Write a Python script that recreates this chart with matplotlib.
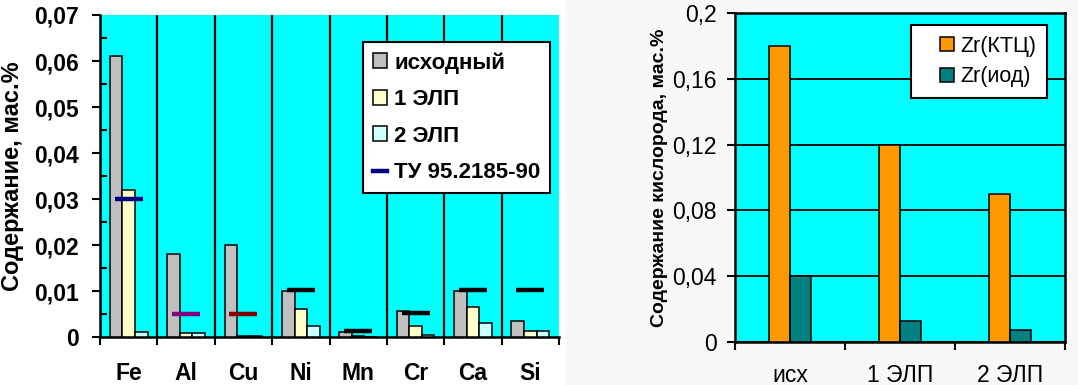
import matplotlib
matplotlib.use("Agg")
import matplotlib.pyplot as plt
import numpy as np
from matplotlib.patches import Rectangle
from matplotlib.lines import Line2D
from matplotlib.ticker import FixedLocator, FuncFormatter

plt.rcParams["font.family"] = ["Liberation Sans", "DejaVu Sans"]

# left panel: impurity content
ELEMENTS = ["Fe", "Al", "Cu", "Ni", "Mn", "Cr", "Ca", "Si"]
INITIAL = [0.061, 0.018, 0.020, 0.010, 0.0010, 0.0057, 0.0100, 0.0035]
ELP1 = [0.032, 0.0008, 0.0003, 0.0061, 0.0002, 0.0023, 0.0066, 0.0014]
ELP2 = [0.0011, 0.0008, 0.0003, 0.0024, 0.0001, 0.0004, 0.0031, 0.0014]
SPEC = [0.030, 0.005, 0.005, 0.0103, 0.0012, 0.0052, 0.0103, 0.0103]
SPEC_COLORS = ["#000080", "#800080", "#800000", "black", "black", "black", "black", "black"]

# right panel: oxygen content
STAGES = ["исх", "1 ЭЛП", "2 ЭЛП"]
ZR_KTC = [0.18, 0.12, 0.09]
ZR_IOD = [0.04, 0.0125, 0.0071]

CYAN = "#00FFFF"
W, H = 1078, 385


def comma_fmt(v, _pos):
    if abs(v) < 1e-12:
        return "0"
    return f"{v:g}".replace(".", ",")


fig = plt.figure(figsize=(W / 100, H / 100), dpi=100)
fig.patch.set_facecolor("white")
fig.patches.append(Rectangle((566 / W, 0), 1 - 566 / W, 1, transform=fig.transFigure,
                             facecolor="#F8F8F8", edgecolor="none", zorder=-10))

# ---------------- left chart ----------------
ax = fig.add_axes([100 / W, 1 - 337 / H, (559 - 100) / W, (337 - 15) / H])
ax.set_facecolor(CYAN)
x = np.arange(len(ELEMENTS))
bw = 0.22
for off, vals, col, lab in [(-bw, INITIAL, "#C0C0C0", "исходный"),
                            (0, ELP1, "#FFFFCC", "1 ЭЛП"),
                            (bw, ELP2, "#CCFFFF", "2 ЭЛП")]:
    ax.bar(x + off, vals, width=bw, color=col, edgecolor="black", linewidth=1.1,
           label=lab, zorder=3)
for xi, s, c in zip(x, SPEC, SPEC_COLORS):
    ax.plot([xi], [s], marker="_", markersize=20, markeredgewidth=3.2,
            color=c, linestyle="none", zorder=4)
for b in x[:-1] + 0.5:
    ax.axvline(b, color="black", lw=1.6, zorder=2)

ax.set_xlim(-0.5, len(ELEMENTS) - 0.5)
ax.set_ylim(0, 0.07)
ax.xaxis.set_major_locator(FixedLocator(np.arange(len(ELEMENTS) + 1) - 0.5))
ax.xaxis.set_major_formatter(FuncFormatter(lambda v, p: ""))
ax.xaxis.set_minor_locator(FixedLocator(x))
ax.xaxis.set_minor_formatter(FuncFormatter(lambda v, p: ELEMENTS[int(round(v))]))
ax.tick_params(axis="x", which="major", direction="out", length=6, width=1.5)
ax.tick_params(axis="x", which="minor", length=0, pad=18, labelsize=16.5)
ax.yaxis.set_major_locator(FixedLocator(np.arange(0, 0.0701, 0.01)))
ax.yaxis.set_minor_locator(FixedLocator(np.arange(0.005, 0.07, 0.01)))
ax.yaxis.set_major_formatter(FuncFormatter(comma_fmt))
ax.tick_params(axis="y", which="major", direction="out", length=6, width=1.5,
               pad=9, labelsize=16.5)
ax.tick_params(axis="y", which="minor", direction="in", length=5, width=1.5)
for lab in ax.get_xticklabels(minor=True) + ax.get_yticklabels():
    lab.set_fontweight("bold")
ax.spines[["top", "right"]].set_visible(False)
for sp in ["left", "bottom"]:
    ax.spines[sp].set_linewidth(1.8)
ax.set_ylabel("Содержание, мас.%", fontsize=17, fontweight="bold")
ax.yaxis.set_label_coords(-(100 - 24) / 459, 0.5)

handles, labels = ax.get_legend_handles_labels()
handles.append(Line2D([], [], color="#000080", lw=3.2))
labels.append("ТУ 95.2185-90")
leg = ax.legend(handles, labels, loc="upper left", bbox_to_anchor=(363 / W, 1 - 42 / H),
                bbox_transform=fig.transFigure, fancybox=False, framealpha=1,
                edgecolor="black", handlelength=0.65, handleheight=0.65, handletextpad=0.3,
                labelspacing=0.7, borderpad=0.45, borderaxespad=0,
                prop={"size": 16, "weight": "bold"})
leg.get_frame().set_linewidth(1.5)
leg.set_zorder(10)

# ---------------- right chart ----------------
ax2 = fig.add_axes([735 / W, 1 - 341.7 / H, (1065 - 735) / W, (341.7 - 13.3) / H])
ax2.set_facecolor(CYAN)
x2 = np.arange(len(STAGES))
bw2 = 0.19
ax2.bar(x2 - bw2 / 2, ZR_KTC, width=bw2, color="#FF9900", edgecolor="black",
        linewidth=1.1, label="Zr(КТЦ)", zorder=3)
ax2.bar(x2 + bw2 / 2, ZR_IOD, width=bw2, color="#008080", edgecolor="black",
        linewidth=1.1, label="Zr(иод)", zorder=3)
ax2.set_xlim(-0.5, len(STAGES) - 0.5)
ax2.set_ylim(0, 0.2)
ax2.yaxis.set_major_locator(FixedLocator(np.arange(0, 0.201, 0.04)))
ax2.yaxis.set_major_formatter(FuncFormatter(comma_fmt))
ax2.grid(axis="y", color="black", lw=1.3, zorder=1)
ax2.set_axisbelow(True)
ax2.xaxis.set_major_locator(FixedLocator(np.arange(len(STAGES) + 1) - 0.5))
ax2.xaxis.set_major_formatter(FuncFormatter(lambda v, p: ""))
ax2.xaxis.set_minor_locator(FixedLocator(x2))
ax2.xaxis.set_minor_formatter(FuncFormatter(lambda v, p: STAGES[int(round(v))]))
ax2.tick_params(axis="x", which="major", direction="out", length=6, width=1.5)
ax2.tick_params(axis="x", which="minor", length=0, pad=16, labelsize=16.5)
ax2.tick_params(axis="y", direction="out", length=6, width=1.5, pad=7, labelsize=16.5)
for sp in ax2.spines.values():
    sp.set_linewidth(1.8)
ax2.set_ylabel("Содержание кислорода, мас.%", fontsize=14, fontweight="bold")
ax2.yaxis.set_label_coords(-(735 - 668) / 330, 0.5)

ktc_h = Line2D([], [], marker="s", markersize=9.5, markerfacecolor="#FF9900",
               markeredgecolor="black", markeredgewidth=1.1, linestyle="none")
iod_h = Line2D([], [], marker="s", markersize=9.5, markerfacecolor="#008080",
               markeredgecolor="black", markeredgewidth=1.1, linestyle="none")
leg2 = ax2.legend([ktc_h, iod_h], ["Zr(КТЦ)", "Zr(иод)"], loc="upper left",
                  bbox_to_anchor=(911 / W, 1 - 25 / H),
                  bbox_transform=fig.transFigure, fancybox=False, framealpha=1,
                  edgecolor="black", handlelength=2.3, handletextpad=-0.5,
                  labelspacing=0.45, borderpad=0.5,
                  borderaxespad=0, prop={"size": 15.5})
leg2.get_frame().set_linewidth(1.5)
leg2.set_zorder(10)

fig.savefig("out.png", dpi=100, facecolor=fig.get_facecolor())
